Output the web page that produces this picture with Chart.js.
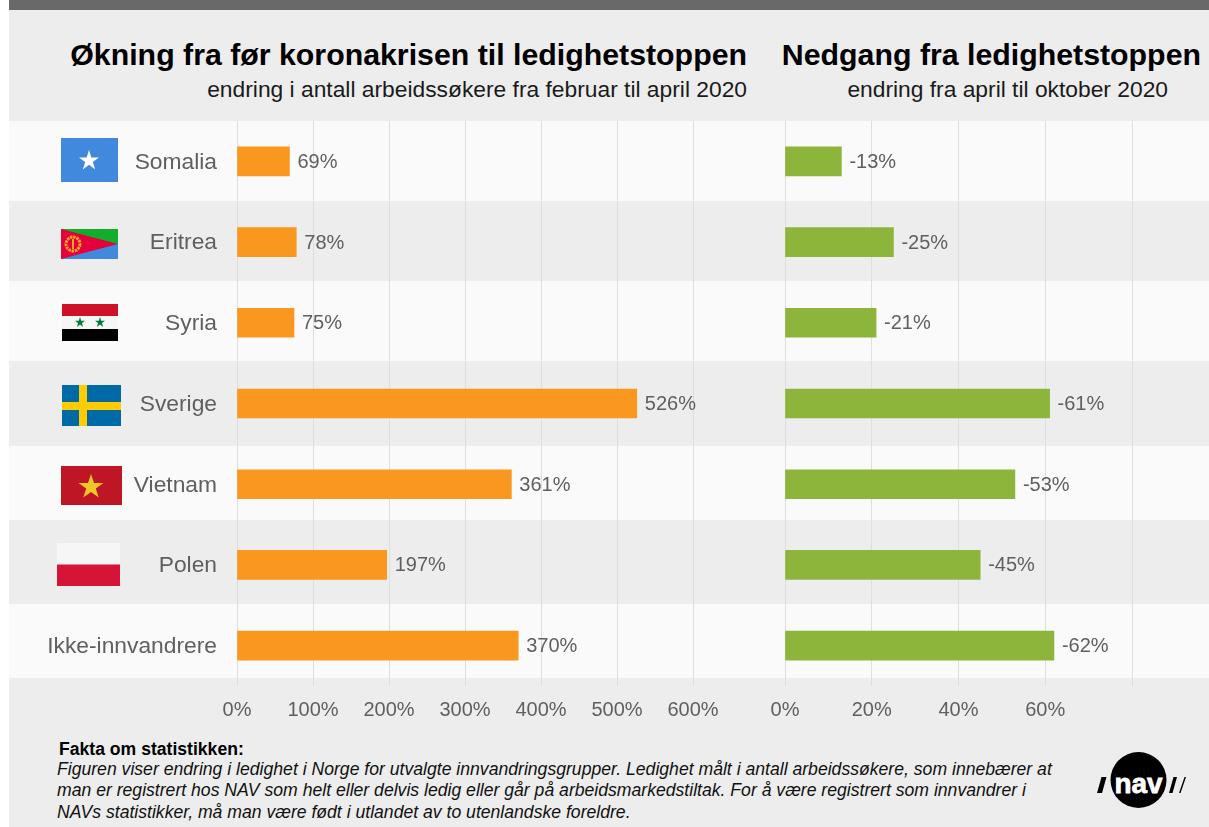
<!DOCTYPE html>
<html lang="no">
<head>
<meta charset="utf-8">
<title>Arbeidssøkere</title>
<script src="https://cdn.jsdelivr.net/npm/chart.js@4"></script>
<style>
html,body{margin:0;padding:0;background:#fff}
#page{position:relative;width:1209px;height:827px;overflow:hidden;font-family:"Liberation Sans",Arial,sans-serif}
#sheet{position:absolute;left:9px;top:0;width:1200px;height:827px;background:#ededed}
#topbar{position:absolute;left:9px;top:0;width:1200px;height:10px;background:#696969}
.band{position:absolute;left:9px;width:1200px;background:#fafafa}
canvas{position:absolute;display:block}
.t{position:absolute;white-space:nowrap}
.h{font-weight:bold;font-size:30.3px;color:#000;text-align:right}
.s{font-size:22.8px;color:#1a1a1a;text-align:right}
.flag{position:absolute}
#ft{left:59px;top:739px;font-weight:bold;font-size:17.6px;color:#000}
.fn{left:57px;font-style:italic;font-size:17.63px;color:#111}
</style>
</head>
<body>
<div id="page">
<div id="sheet"></div>
<div id="topbar"></div>
<div class="band" style="top:121px;height:80px"></div>
<div class="band" style="top:281px;height:80px"></div>
<div class="band" style="top:446px;height:74px"></div>
<div class="band" style="top:604px;height:74px"></div>

<div class="t h" style="right:462px;top:38px">Økning fra før koronakrisen til ledighetstoppen</div>
<div class="t s" style="right:462px;top:76px">endring i antall arbeidssøkere fra februar til april 2020</div>
<div class="t h" style="right:8px;top:38px">Nedgang fra ledighetstoppen</div>
<div class="t s" style="right:41px;top:76px">endring fra april til oktober 2020</div>

<svg class="flag" style="left:61px;top:138px" width="57" height="44" viewBox="0 0 57 44"><rect width="57" height="44" fill="#4189DD"/><polygon points="28,12 30.4,19.4 38,19.4 31.8,24 34.2,31.4 28,26.8 21.8,31.4 24.2,24 18,19.4 25.6,19.4" fill="#fff"/></svg>
<svg class="flag" style="left:61px;top:229px" width="57" height="30" viewBox="0 0 57 30"><rect width="57" height="30" fill="#E4003A"/><polygon points="0,0 57,0 57,15" fill="#12AD2B"/><polygon points="0,30 57,30 57,15" fill="#4189DD"/><circle cx="12" cy="15" r="7" fill="none" stroke="#F7A823" stroke-width="3" stroke-dasharray="2.500 0.800"/><rect x="11" y="10" width="2" height="10" fill="#F7A823"/></svg>
<svg class="flag" style="left:62px;top:304px" width="56" height="37" viewBox="0 0 56 37"><rect width="56" height="12" fill="#CE1126"/><rect y="12" width="56" height="13" fill="#f6f6f6"/><rect y="25" width="56" height="12"/><polygon points="18,13 19.2,16.8 23,16.8 20,19 21.1,23 18,20.600 14.900,23 16,19 13,16.800 16.800,16.800" fill="#007A3D"/><polygon points="38,13 39.2,16.8 43,16.8 40,19 41.1,23 38,20.600 34.900,23 36,19 33,16.800 36.800,16.800" fill="#007A3D"/></svg>
<svg class="flag" style="left:62px;top:385px" width="59" height="41" viewBox="0 0 59 41"><rect width="59" height="41" fill="#006AA7"/><rect x="17" width="8" height="41" fill="#FECC00"/><rect y="17" width="59" height="8" fill="#FECC00"/></svg>
<svg class="flag" style="left:61px;top:466px" width="61" height="39" viewBox="0 0 61 39"><rect width="61" height="39" fill="#BE1625"/><polygon points="30,8 33,17 42.500,17 34.800,22.600 37.700,31.500 30,26 22.300,31.500 25.200,22.600 17.500,17 27,17" fill="#F0C725"/></svg>
<svg class="flag" style="left:57px;top:543px" width="63" height="43" viewBox="0 0 63 43"><rect width="63" height="22" fill="#f6f6f6"/><rect y="21.500" width="63" height="21.500" fill="#D61438"/></svg>

<canvas id="left" style="left:9px;top:121px"></canvas>
<canvas id="right" style="left:745px;top:121px"></canvas>

<div class="t" id="ft">Fakta om statistikken:</div>
<div class="t fn" style="top:759px">Figuren viser endring i ledighet i Norge for utvalgte innvandringsgrupper. Ledighet målt i antall arbeidssøkere, som innebærer at</div>
<div class="t fn" style="top:780px">man er registrert hos NAV som helt eller delvis ledig eller går på arbeidsmarkedstiltak. For å være registrert som innvandrer i</div>
<div class="t fn" style="top:802px">NAVs statistikker, må man være født i utlandet av to utenlandske foreldre.</div>

<svg class="flag" style="left:1094px;top:750px" width="96" height="60" viewBox="0 0 96 60">
<circle cx="44.500" cy="30" r="28" fill="#000"/>
<polygon points="3,43 8,43 12.500,27 7.500,27" fill="#000"/>
<polygon points="75,43 78.500,43 83,27 79.500,27" fill="#000"/>
<polygon points="85,43 86.500,43 92,27 90.500,27" fill="#000"/>
<text x="44.500" y="43" text-anchor="middle" font-family="Liberation Sans" font-weight="bold" font-size="28" fill="#fff" stroke="#fff" stroke-width="0.800" textLength="48" lengthAdjust="spacingAndGlyphs">nav</text>
</svg>
</div>

<script>
const categories = ["Somalia","Eritrea","Syria","Sverige","Vietnam","Polen","Ikke-innvandrere"];
const increaseValues = [69,78,75,526,361,197,370];
const decreaseValues = [-13,-25,-21,-61,-53,-45,-62];
const increaseTicks = [0,100,200,300,400,500,600];
const decreaseTicks = [0,-20,-40,-60,-80];

const FONT = '"Liberation Sans", Arial, sans-serif';
const GREY = '#5f5f5f';

const valueLabels = {
  id:'valueLabels',
  afterDatasetsDraw(chart){
    const {ctx} = chart;
    const meta = chart.getDatasetMeta(0);
    ctx.save();
    ctx.font = '20px ' + FONT;
    ctx.fillStyle = GREY;
    ctx.textBaseline = 'middle';
    ctx.textAlign = 'left';
    meta.data.forEach((bar,i)=>{
      ctx.fillText(chart.data.datasets[0].data[i] + '%', bar.x + 8, bar.y + 1);
    });
    ctx.restore();
  }
};

const categoryLabels = {
  id:'categoryLabels',
  afterDatasetsDraw(chart){
    const {ctx, scales:{y}, chartArea} = chart;
    ctx.save();
    ctx.font = '22.8px ' + FONT;
    ctx.fillStyle = GREY;
    ctx.textBaseline = 'middle';
    ctx.textAlign = 'right';
    categories.forEach((name,i)=>{
      ctx.fillText(name, chartArea.left - 20, y.getPixelForValue(i) + 1);
    });
    ctx.restore();
  }
};

function build(id, width, yWidth, values, color, xOpts, extra){
  const el = document.getElementById(id);
  el.width = width; el.height = 605;
  return new Chart(el, {
    type:'bar',
    data:{labels:categories, datasets:[{data:values, backgroundColor:color, borderWidth:0, barThickness:29}]},
    plugins:extra,
    options:{
      responsive:false, animation:false, indexAxis:'y',
      layout:{padding:{left:0,right:40,top:0,bottom:0}},
      plugins:{legend:{display:false},tooltip:{enabled:false}},
      scales:{
        x:Object.assign({
          grid:{color:'#dedede',lineWidth:1,drawTicks:false},
          border:{display:false},
          afterFit(s){s.height=40;},
        },xOpts),
        y:{
          afterFit(s){s.width=yWidth;s.paddingTop=0;s.paddingBottom=0;},
          grid:{display:false},
          border:{display:false},
          ticks:{display:false}
        }
      }
    }
  });
}

build('left', 724, 228, increaseValues, '#F9971E', {
  min:0,max:600,
  afterBuildTicks(s){s.ticks=increaseTicks.map(v=>({value:v}));},
  ticks:{padding:12,color:GREY,maxRotation:0,font:{family:FONT,size:20},callback:v=>v+'%'}
}, [valueLabels, categoryLabels]);
build('right', 427, 40, decreaseValues, '#8DB53C', {
  min:-80,max:0,reverse:true,
  afterBuildTicks(s){s.ticks=decreaseTicks.map(v=>({value:v}));},
  ticks:{padding:12,color:GREY,maxRotation:0,font:{family:FONT,size:20},callback:v=>v===-80?'':Math.abs(v)+'%'}
}, [valueLabels]);
</script>
</body>
</html>
